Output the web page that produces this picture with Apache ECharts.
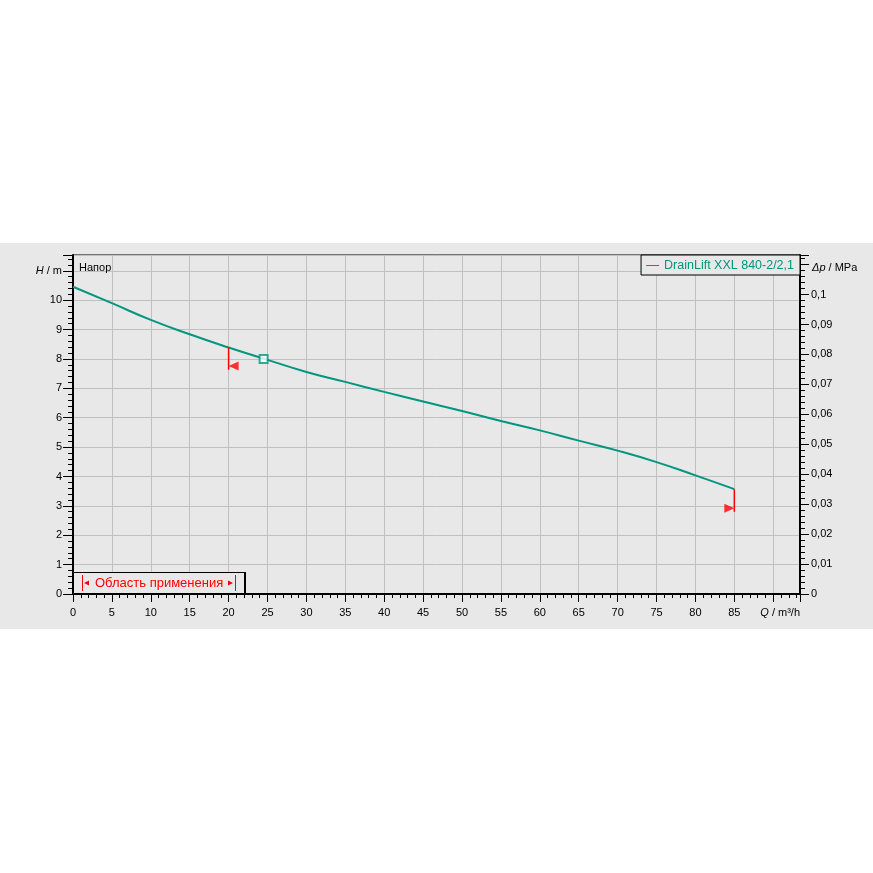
<!DOCTYPE html>
<html><head><meta charset="utf-8">
<script src="https://cdn.jsdelivr.net/npm/echarts@6/dist/echarts.min.js"></script>
<style>
html,body{margin:0;padding:0;background:#fff;}
#band{position:absolute;left:0;top:243px;width:873px;height:386px;background:#e8e8e8;}
#chart{position:absolute;left:0;top:0;width:873px;height:873px;}
</style></head><body><div id="band"></div><div id="chart"></div>
<script>
// ---- data ----
const flowQ = [0, 5, 10, 15, 20, 25, 30, 35, 40, 45, 50, 55, 60, 65, 70, 75, 80, 85];
const headH = [10.46, 9.90, 9.33, 8.84, 8.39, 7.97, 7.56, 7.22, 6.88, 6.55, 6.23, 5.89, 5.57, 5.22, 4.88, 4.49, 4.04, 3.57];
const dutyPoint = [24.5, 8.0];
const rangeStartLine = [[20, 8.39], [20, 7.63]];
const rangeEndLine = [[85, 3.57], [85, 2.80]];
const rangeStartMark = [[20, 7.76]];
const rangeEndMark = [[85, 2.92]];
const xTickLabels = ['0','5','10','15','20','25','30','35','40','45','50','55','60','65','70','75','80','85'];
const yTickLabels = ['0','1','2','3','4','5','6','7','8','9','10'];
const pTickLabels = ['0','0,01','0,02','0,03','0,04','0,05','0,06','0,07','0,08','0,09','0,1'];
const seriesName = 'DrainLift XXL 840-2/2,1';
const rangeLabel = 'Область применения';
const headTitle = 'Напор';

const X_MAX = 93.44, Y_MAX = 11.54, MPA_PER_M = 0.00981;
const TEAL = '#00967f', RED = '#ff0000', GRID = '#c0c0c0', BG = '#e8e8e8';
const FONT = 'Arial, "Liberation Sans", sans-serif';

function pick(v, step, labels) {
  const i = Math.round(v / step);
  if (Math.abs(v - i * step) < step * 1e-4 && i >= 0 && i < labels.length) return labels[i];
  return '';
}
const tickOnly = (extra) => Object.assign({type: 'value', min: 0, axisLine: {show: false},
  axisLabel: {show: false}, splitLine: {show: false}}, extra);

const chart = echarts.init(document.getElementById('chart'), null, {renderer: 'canvas'});
const option = {
  animation: false,
  backgroundColor: 'transparent',
  grid: {left: 73, right: 73, top: 255, bottom: 279, show: true, backgroundColor: BG, borderColor: '#000', borderWidth: 1},
  legend: {
    data: [seriesName], right: 73, top: 255, icon: 'rect', itemWidth: 13, itemHeight: 1,
    borderColor: '#000', borderWidth: 1, borderRadius: 0, padding: [4, 6, 3, 5], backgroundColor: BG,
    selectedMode: false, textStyle: {color: TEAL, fontSize: 12.5, fontFamily: FONT}
  },
  xAxis: [
    {type: 'value', min: 0, max: X_MAX, interval: 5, position: 'bottom',
     axisLine: {show: true, lineStyle: {color: '#000', width: 2}},
     axisTick: {show: true, length: 8, lineStyle: {color: '#000'}},
     axisLabel: {margin: 13, color: '#000', fontSize: 11, fontFamily: FONT, formatter: v => pick(v, 5, xTickLabels)},
     splitLine: {show: true, lineStyle: {color: GRID, width: 1}}},
    tickOnly({max: X_MAX, interval: 1, position: 'bottom', axisTick: {show: true, length: 4, lineStyle: {color: '#000'}}})
  ],
  yAxis: [
    {type: 'value', min: 0, max: Y_MAX, interval: 1, position: 'left',
     axisLine: {show: true, lineStyle: {color: '#000', width: 2}},
     axisTick: {show: true, length: 10, lineStyle: {color: '#000'}},
     axisLabel: {margin: 11, color: '#000', fontSize: 11, fontFamily: FONT,
       formatter: v => Math.abs(v - 11) < 1e-6 ? '{i|H} / m' : pick(v, 1, yTickLabels),
       rich: {i: {fontStyle: 'italic', color: '#000', fontSize: 11, fontFamily: FONT}}},
     splitLine: {show: true, lineStyle: {color: GRID, width: 1}}},
    tickOnly({max: Y_MAX, interval: 0.2, position: 'left', axisTick: {show: true, length: 5, lineStyle: {color: '#000'}}}),
    {type: 'value', min: 0, max: Y_MAX * MPA_PER_M, interval: 0.01, position: 'right',
     axisLine: {show: true, lineStyle: {color: '#000', width: 2}},
     axisTick: {show: true, length: 9, lineStyle: {color: '#000'}},
     axisLabel: {margin: 11, color: '#000', fontSize: 11, fontFamily: FONT, formatter: v => pick(v, 0.01, pTickLabels)},
     splitLine: {show: false}},
    tickOnly({max: Y_MAX * MPA_PER_M, interval: 0.002, position: 'right', axisTick: {show: true, length: 5, lineStyle: {color: '#000'}}})
  ],
  series: [
    {name: seriesName, type: 'line', data: flowQ.map((q, i) => [q, headH[i]]), smooth: true, showSymbol: false,
     color: TEAL, lineStyle: {color: TEAL, width: 2}, z: 3},
    {name: 'duty', type: 'scatter', data: [dutyPoint], symbol: 'rect', symbolSize: 8,
     itemStyle: {color: '#ffffff', borderColor: TEAL, borderWidth: 2}, z: 5},
    {name: 'rangeStart', type: 'line', data: rangeStartLine, showSymbol: false, lineStyle: {color: RED, width: 1.5}, z: 4},
    {name: 'rangeEnd', type: 'line', data: rangeEndLine, showSymbol: false, lineStyle: {color: RED, width: 1.5}, z: 4},
    {name: 'rangeStartMark', type: 'scatter', data: rangeStartMark, symbol: 'triangle', symbolSize: [9, 10],
     symbolRotate: 90, symbolOffset: [5, 0], itemStyle: {color: RED}, z: 4},
    {name: 'rangeEndMark', type: 'scatter', data: rangeEndMark, symbol: 'triangle', symbolSize: [9, 10],
     symbolRotate: -90, symbolOffset: [-5, 0], itemStyle: {color: RED}, z: 4}
  ],
  graphic: [
    {type: 'text', z: 100, left: 79, top: 262, style: {text: headTitle, fill: '#000', font: '11px ' + FONT}},
    {type: 'text', z: 100, left: 812, top: 262, style: {text: '{i|Δp} / MPa', fill: '#000', font: '11px ' + FONT,
      rich: {i: {fontStyle: 'italic', fill: '#000', font: 'italic 11px ' + FONT}}}},
    {type: 'text', z: 100, right: 73, top: 607, style: {text: '{i|Q} / m³/h', fill: '#000', font: '11px ' + FONT,
      rich: {i: {fontStyle: 'italic', fill: '#000', font: 'italic 11px ' + FONT}}}},
    {type: 'group', z: 100, children: [
      {type: 'rect', z: 100, shape: {x: 73.5, y: 572.5, width: 171, height: 21}, style: {fill: BG, stroke: '#000', lineWidth: 1}},
      {type: 'line', z: 101, shape: {x1: 245, y1: 572, x2: 245, y2: 594}, style: {stroke: '#000', lineWidth: 2}},
      {type: 'line', z: 101, shape: {x1: 82.5, y1: 575, x2: 82.5, y2: 591}, style: {stroke: RED, lineWidth: 1}},
      {type: 'polygon', z: 101, shape: {points: [[84, 583], [89, 580.5], [89, 585.5]]}, style: {fill: RED}},
      {type: 'text', z: 101, x: 95, y: 583, style: {text: rangeLabel, fill: RED, font: '13px ' + FONT, verticalAlign: 'middle'}},
      {type: 'polygon', z: 101, shape: {points: [[233, 583], [228, 580.5], [228, 585.5]]}, style: {fill: RED}},
      {type: 'line', z: 101, shape: {x1: 235.5, y1: 575, x2: 235.5, y2: 591}, style: {stroke: RED, lineWidth: 1}}
    ]}
  ]
};
chart.setOption(option);
</script></body></html>
